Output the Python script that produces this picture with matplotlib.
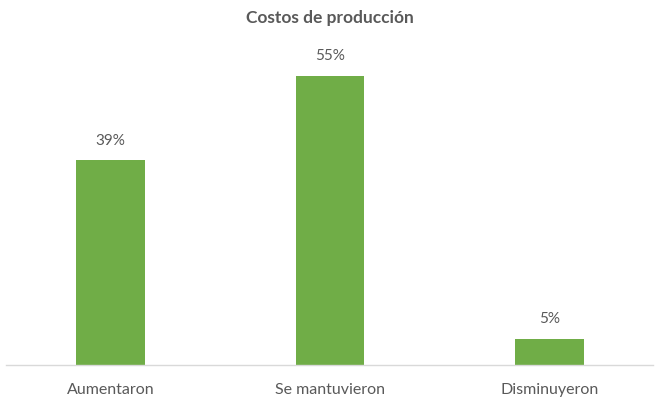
import matplotlib.pyplot as plt

# datos de la encuesta
categorias = ['Aumentaron', 'Se mantuvieron', 'Disminuyeron']
porcentajes = [39, 55, 5]
etiquetas = ['39%', '55%', '5%']

plt.rcParams['font.family'] = ['Lato', 'DejaVu Sans']
gris = '#595959'
verde = '#70AD47'

fig = plt.figure(figsize=(6.57, 4.01), dpi=100)
ax = fig.add_axes([6/657, 36/401, 647/657, 315/401])

x = range(len(categorias))
barras = ax.bar(x, porcentajes, width=0.314, color=verde, zorder=2)

# etiquetas de valor sobre cada barra
for b, txt in zip(barras, etiquetas):
    ax.annotate(txt, (b.get_x() + b.get_width()/2, b.get_height()),
                xytext=(0, 9), textcoords='offset points',
                ha='center', va='bottom', fontsize=11, color=gris)

ax.set_xlim(-0.476, 2.4715)
ax.set_ylim(0, 315/5.255)
ax.set_xticks(list(x))
ax.set_xticklabels(categorias, fontsize=11.5, color=gris)
ax.tick_params(axis='x', length=0, pad=13)
ax.set_yticks([])

for lado in ['top', 'right', 'left']:
    ax.spines[lado].set_visible(False)
ax.spines['bottom'].set_color('#D9D9D9')
ax.spines['bottom'].set_linewidth(1)

fig.text(329.5/657, 1 - 18/401, 'Costos de producción', ha='center', va='center',
         fontsize=12.5, fontweight='bold', color=gris)

fig.savefig('out.png', dpi=100, facecolor='white')
